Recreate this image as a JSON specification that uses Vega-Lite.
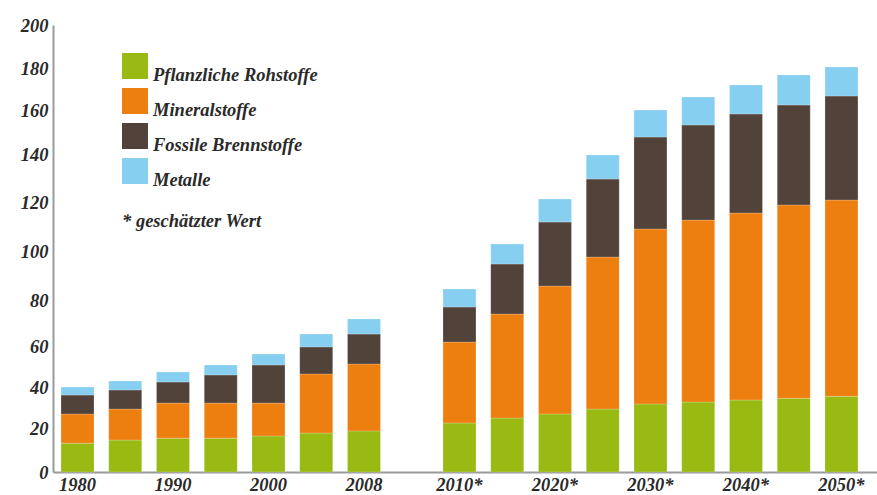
{
  "$schema": "https://vega.github.io/schema/vega-lite/v6.json",
  "width": 824,
  "height": 447,
  "autosize": {"type": "none"},
  "padding": {"left": 53, "top": 25, "right": 0, "bottom": 23},
  "background": "#ffffff",
  "config": {"view": {"stroke": null}},
  "data": {
    "values": [
      {"Jahr": "1980", "Pflanzliche Rohstoffe": 13.2, "Mineralstoffe": 13.8, "Fossile Brennstoffe": 9.2, "Metalle": 3.9},
      {"Jahr": "1985", "Pflanzliche Rohstoffe": 14.6, "Mineralstoffe": 14.8, "Fossile Brennstoffe": 9.3, "Metalle": 4.4},
      {"Jahr": "1990", "Pflanzliche Rohstoffe": 15.5, "Mineralstoffe": 16.8, "Fossile Brennstoffe": 10.3, "Metalle": 4.9},
      {"Jahr": "1995", "Pflanzliche Rohstoffe": 15.5, "Mineralstoffe": 16.8, "Fossile Brennstoffe": 13.8, "Metalle": 4.9},
      {"Jahr": "2000", "Pflanzliche Rohstoffe": 16.5, "Mineralstoffe": 15.8, "Fossile Brennstoffe": 18.7, "Metalle": 5.4},
      {"Jahr": "2005", "Pflanzliche Rohstoffe": 17.8, "Mineralstoffe": 28.8, "Fossile Brennstoffe": 13.3, "Metalle": 5.5},
      {"Jahr": "2008", "Pflanzliche Rohstoffe": 18.8, "Mineralstoffe": 32.7, "Fossile Brennstoffe": 13.9, "Metalle": 6.5},
      {"Jahr": "2010*", "Pflanzliche Rohstoffe": 22.6, "Mineralstoffe": 39.4, "Fossile Brennstoffe": 15.0, "Metalle": 7.6},
      {"Jahr": "2015*", "Pflanzliche Rohstoffe": 25.0, "Mineralstoffe": 49.0, "Fossile Brennstoffe": 20.9, "Metalle": 8.2},
      {"Jahr": "2020*", "Pflanzliche Rohstoffe": 27.0, "Mineralstoffe": 58.8, "Fossile Brennstoffe": 26.3, "Metalle": 9.4},
      {"Jahr": "2025*", "Pflanzliche Rohstoffe": 29.4, "Mineralstoffe": 68.4, "Fossile Brennstoffe": 31.9, "Metalle": 9.9},
      {"Jahr": "2030*", "Pflanzliche Rohstoffe": 31.9, "Mineralstoffe": 77.4, "Fossile Brennstoffe": 38.4, "Metalle": 12.3},
      {"Jahr": "2035*", "Pflanzliche Rohstoffe": 32.8, "Mineralstoffe": 80.1, "Fossile Brennstoffe": 40.3, "Metalle": 13.0},
      {"Jahr": "2040*", "Pflanzliche Rohstoffe": 33.8, "Mineralstoffe": 82.0, "Fossile Brennstoffe": 42.4, "Metalle": 13.8},
      {"Jahr": "2045*", "Pflanzliche Rohstoffe": 34.6, "Mineralstoffe": 84.5, "Fossile Brennstoffe": 43.3, "Metalle": 14.4},
      {"Jahr": "2050*", "Pflanzliche Rohstoffe": 35.6, "Mineralstoffe": 85.5, "Fossile Brennstoffe": 45.6, "Metalle": 13.9}
    ]
  },
  "transform": [
    {"fold": ["Pflanzliche Rohstoffe", "Mineralstoffe", "Fossile Brennstoffe", "Metalle"], "as": ["Art", "Wert"]},
    {"calculate": "indexof(['Pflanzliche Rohstoffe', 'Mineralstoffe', 'Fossile Brennstoffe', 'Metalle'], datum.Art)", "as": "Reihenfolge"}
  ],
  "mark": {"type": "bar", "stroke": "#ffffff", "strokeOpacity": 0.35, "strokeWidth": 0.6},
  "encoding": {
    "x": {
      "field": "Jahr",
      "type": "nominal",
      "sort": null,
      "scale": {
        "domain": ["1980", "1985", "1990", "1995", "2000", "2005", "2008", " ", "2010*", "2015*", "2020*", "2025*", "2030*", "2035*", "2040*", "2045*", "2050*"],
        "paddingInner": 0.309,
        "paddingOuter": 0.283,
        "align": 0.296
      },
      "axis": {
        "title": null,
        "ticks": false,
        "grid": false,
        "labelAngle": 0,
        "labelPadding": 3,
        "labelFont": "Liberation Serif",
        "labelFontStyle": "italic",
        "labelFontWeight": "bold",
        "labelFontSize": 18.5,
        "labelColor": "#2a2a2a",
        "labelExpr": "indexof(['1980','1990','2000','2008','2010*','2020*','2030*','2040*','2050*'], datum.value) >= 0 ? datum.value : ''",
        "domainColor": "#9a9a9a",
        "domainWidth": 2
      }
    },
    "y": {
      "field": "Wert",
      "type": "quantitative",
      "stack": "zero",
      "scale": {
        "domain": [0, 20, 40, 60, 80, 100, 120, 140, 160, 180, 200],
        "range": [447, 403.3, 362.3, 321.7, 275, 226.7, 177.7, 129, 85, 43.3, 0],
        "zero": true,
        "nice": false
      },
      "axis": {
        "title": null,
        "ticks": false,
        "grid": false,
        "values": [0, 20, 40, 60, 80, 100, 120, 140, 160, 180, 200],
        "labelPadding": 5,
        "labelFont": "Liberation Serif",
        "labelFontStyle": "italic",
        "labelFontWeight": "bold",
        "labelFontSize": 18.5,
        "labelColor": "#2a2a2a",
        "domainColor": "#9a9a9a",
        "domainWidth": 2
      }
    },
    "order": {"field": "Reihenfolge", "type": "quantitative", "sort": "ascending"},
    "color": {
      "field": "Art",
      "type": "nominal",
      "scale": {
        "domain": ["Pflanzliche Rohstoffe", "Mineralstoffe", "Fossile Brennstoffe", "Metalle"],
        "range": ["#99b913", "#ed7f11", "#51433a", "#87cff0"]
      },
      "legend": {
        "orient": "none",
        "legendX": 69,
        "legendY": 28,
        "direction": "vertical",
        "padding": 0,
        "symbolType": "square",
        "symbolSize": 676,
        "symbolStrokeWidth": 0,
        "symbolOpacity": 1,
        "rowPadding": 3,
        "labelOffset": 5,
        "labelFont": "Liberation Serif",
        "labelFontStyle": "italic",
        "labelFontWeight": "bold",
        "labelFontSize": 18.5,
        "labelColor": "#2a2a2a",
        "labelBaseline": "top",
        "labelLimit": 400,
        "title": "* geschätzter Wert",
        "titleOrient": "bottom",
        "titleAnchor": "start",
        "titlePadding": 22,
        "titleFont": "Liberation Serif",
        "titleFontStyle": "italic",
        "titleFontWeight": "bold",
        "titleFontSize": 18.5,
        "titleColor": "#2a2a2a"
      }
    }
  }
}
